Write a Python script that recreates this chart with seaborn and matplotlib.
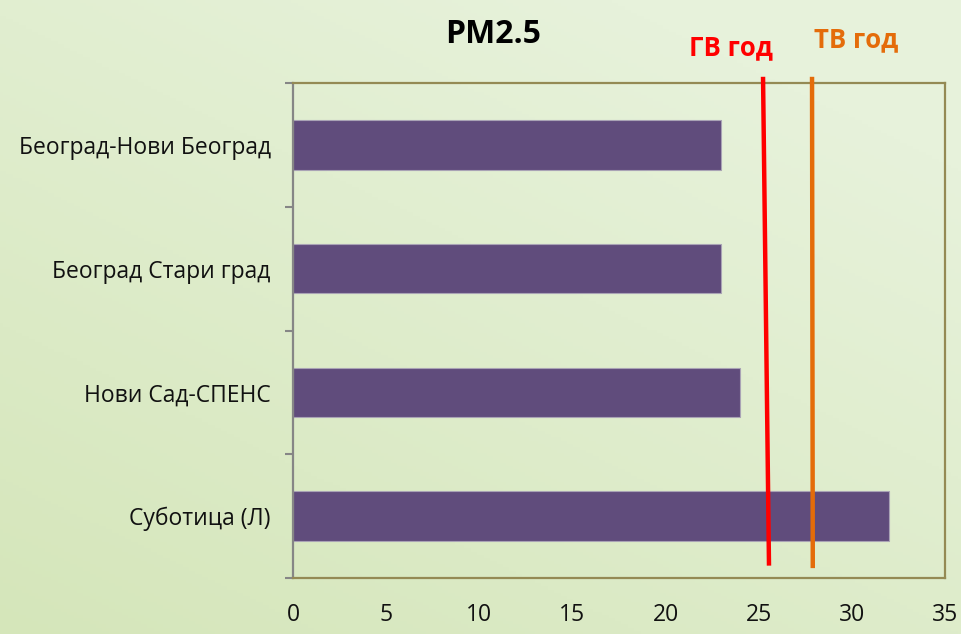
import numpy as np
import pandas as pd
import matplotlib.pyplot as plt
import matplotlib.colors as mcolors
import seaborn as sns

# data
stations = ['Београд-Нови Београд', 'Београд Стари град', 'Нови Сад-СПЕНС', 'Суботица (Л)']
pm25 = [23, 23, 24, 32]
x_ticks = [0, 5, 10, 15, 20, 25, 30, 35]

# reference lines (hand drawn in the original, slightly slanted red one)
gv_top, gv_bottom = 25.23, 25.55
tv_top, tv_bottom = 27.86, 27.9

sns.set_theme(style='white')
plt.rcParams['font.family'] = ['Open Sans', 'DejaVu Sans']

df = pd.DataFrame({'station': stations, 'value': pm25})

fig = plt.figure(figsize=(9.61, 6.34), dpi=100)

# background gradient (darker bottom-left, lighter top-right)
bg = fig.add_axes([0, 0, 1, 1], zorder=-10)
yy, xx = np.mgrid[0:1:200j, 0:1:300j]
t = np.clip((xx * 0.55 + yy * 0.75) / 1.1, 0, 1)
c0 = np.array(mcolors.to_rgb('#D5E6BA'))
c1 = np.array(mcolors.to_rgb('#E7F2DB'))
img = c0[None, None, :] * (1 - t[..., None]) + c1[None, None, :] * t[..., None]
bg.imshow(img, origin='lower', extent=[0, 1, 0, 1], aspect='auto')
bg.axis('off')

ax = fig.add_axes([0.3049, 0.0883, 0.6785, 0.7808])
ax.set_facecolor('none')

sns.barplot(data=df, x='value', y='station', orient='h', color='#604C7C',
            width=0.4, saturation=1, edgecolor='#A9A3B5', linewidth=0.8, ax=ax)

ax.set_xlim(0, 35)
ax.set_ylim(3.5, -0.5)
ax.set_xlabel('')
ax.set_ylabel('')
ax.set_xticks(x_ticks)
ax.set_xticklabels([str(v) for v in x_ticks], fontsize=16.5)
ax.tick_params(axis='x', length=0, pad=18)
ax.tick_params(axis='y', which='major', length=0, labelsize=16.5, pad=16)
ax.set_yticks(np.arange(-0.5, 4, 1), minor=True)
ax.tick_params(axis='y', which='minor', left=True, length=6, width=1.5,
               color='#868686', direction='out')
for lbl in ax.get_xticklabels() + ax.get_yticklabels():
    lbl.set_color('#111111')

for side in ['top', 'right', 'bottom']:
    ax.spines[side].set_color('#948A54')
    ax.spines[side].set_linewidth(1.6)
    ax.spines[side].set_visible(True)
ax.spines['left'].set_color('#868686')
ax.spines['left'].set_linewidth(1.6)

# limit lines
ax.plot([gv_top, gv_bottom], [-0.55, 3.4], color='#FF0000', lw=3.2,
        solid_capstyle='butt', clip_on=False, zorder=5)
ax.plot([tv_top, tv_bottom], [-0.55, 3.42], color='#E46C0A', lw=3.2,
        solid_capstyle='butt', clip_on=False, zorder=5)

fig.text(0.513, 0.946, 'PM2.5', ha='center', va='center', fontsize=23,
         fontweight='bold', color='black')
fig.text(0.761, 0.925, 'ГВ год', ha='center', va='center', fontsize=18.5,
         fontweight='bold', color='#FF0000')
fig.text(0.891, 0.937, 'ТВ год', ha='center', va='center', fontsize=18.5,
         fontweight='bold', color='#E46C0A')

fig.savefig('out.png', dpi=100)
